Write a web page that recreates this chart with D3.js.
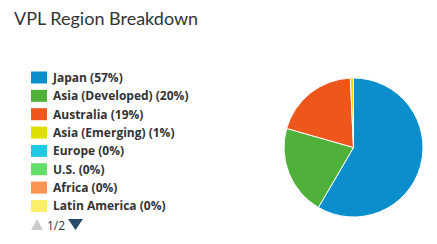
<!DOCTYPE html>
<html><head><meta charset="utf-8">
<script src="https://cdn.jsdelivr.net/npm/d3@7"></script>
<style>body{margin:0;background:#fff;} svg{display:block;}</style>
</head><body>
<svg id="chart" width="437" height="244"></svg>
<script>
const title = "VPL Region Breakdown";
const categories = ["Japan", "Asia (Developed)", "Australia", "Asia (Emerging)", "Europe", "U.S.", "Africa", "Latin America"];
const values = [56.8, 20.4, 19.3, 0.7, 0, 0, 0, 0];
const percentLabels = [57, 20, 19, 1, 0, 0, 0, 0];
const colors = ["#0a8ecc", "#4fb13a", "#ef561c", "#dde000", "#22c9e3", "#63de6b", "#fd9353", "#fdee6a"];
const pagerText = "1/2";

const svg = d3.select("#chart");
svg.append("text").attr("x", 14).attr("y", 25)
  .attr("font-family", "Lato, 'Open Sans', sans-serif").attr("font-size", 18)
  .attr("fill", "#333").text(title);

const color = d3.scaleOrdinal().domain(categories).range(colors);
const cx = 353.5, cy = 147.5, r = 69.5;
const pie = d3.pie().sort(null).value(d => d.v);
const arc = d3.arc().innerRadius(0).outerRadius(r);
const data = categories.map((c, i) => ({c, v: values[i]}));
svg.append("g").attr("transform", `translate(${cx},${cy})`)
  .selectAll("path").data(pie(data).filter(d => d.data.v > 0)).join("path")
  .attr("d", arc).attr("fill", d => color(d.data.c))
  .attr("stroke", "#fff").attr("stroke-width", 1);

const y = d3.scaleBand().domain(categories).range([71.5, 71.5 + 18.35 * categories.length]);
const lg = svg.append("g");
const rows = lg.selectAll("g").data(categories).join("g")
  .attr("transform", d => `translate(31,${y(d)})`);
rows.append("rect").attr("width", 16).attr("height", 12).attr("fill", d => color(d));
rows.append("text").attr("x", 22).attr("y", 10.5)
  .attr("font-family", "'Open Sans', sans-serif").attr("font-weight", "bold")
  .attr("font-size", 12).attr("fill", "#333")
  .text((d, i) => `${d} (${percentLabels[i]}%)`);

// pager
const pg = svg.append("g");
pg.append("path").attr("d", "M31,230 L37,219 L43,230 Z").attr("fill", "#cccccc");
pg.append("text").attr("x", 47).attr("y", 229.5)
  .attr("font-family", "'Open Sans', sans-serif").attr("font-size", 12)
  .attr("fill", "#333").text(pagerText);
pg.append("path").attr("d", "M68,219 L83,219 L75.5,230 Z").attr("fill", "#274b6d");
</script>
</body></html>
